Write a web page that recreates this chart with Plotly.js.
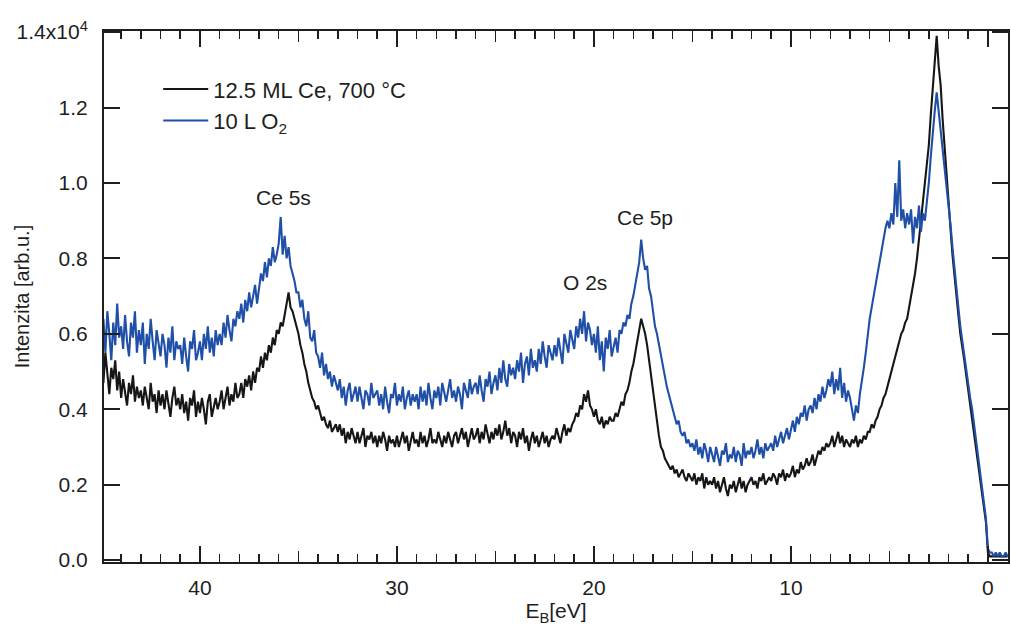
<!DOCTYPE html>
<html>
<head>
<meta charset="utf-8">
<script src="https://cdn.plot.ly/plotly-3.0.1.min.js"></script>
<style>html,body{margin:0;padding:0;background:#fff;}#chart{width:1011px;height:629px;}</style>
</head>
<body>
<div id="chart"></div>
<script>
// Binding-energy grid of the spectra (eV), first point and spacing
const energyStart = 45.0;
const energyStep = 0.1;

// Intensity in units of 10^4 counts, one row per eV (45.0 -> 44.1, 44.0 -> 43.1, ...)
const cleanCe = [
 .52,.47,.55,.49,.44,.51,.48,.53,.45,.50,
 .43,.48,.45,.41,.47,.44,.49,.42,.46,.43,
 .45,.41,.46,.43,.40,.47,.42,.44,.39,.45,
 .41,.44,.40,.45,.42,.38,.43,.46,.41,.43,
 .40,.44,.39,.42,.37,.43,.41,.45,.38,.42,
 .39,.43,.40,.36,.42,.44,.38,.41,.43,.40,
 .42,.45,.40,.43,.46,.41,.44,.42,.47,.43,
 .44,.47,.43,.48,.46,.49,.45,.50,.47,.51,
 .50,.54,.51,.55,.53,.57,.55,.59,.57,.61,
 .60,.63,.62,.65,.68,.71,.67,.66,.64,.62,
 .60,.57,.55,.52,.50,.47,.45,.43,.42,.40,
 .41,.39,.37,.38,.36,.35,.37,.34,.35,.36,
 .34,.36,.33,.35,.31,.34,.32,.35,.33,.31,
 .34,.31,.33,.35,.30,.33,.32,.34,.31,.33,
 .30,.33,.31,.34,.32,.29,.33,.31,.32,.30,
 .33,.30,.32,.34,.31,.33,.29,.32,.34,.31,
 .32,.30,.34,.31,.33,.30,.32,.35,.31,.32,
 .31,.34,.32,.30,.33,.31,.34,.32,.30,.33,
 .34,.31,.33,.35,.32,.34,.30,.33,.35,.32,
 .33,.35,.31,.34,.32,.36,.33,.31,.34,.32,
 .35,.33,.36,.32,.34,.37,.33,.35,.31,.34,
 .33,.30,.34,.32,.35,.31,.33,.29,.32,.34,
 .31,.33,.30,.32,.34,.31,.33,.30,.32,.33,
 .32,.35,.33,.31,.34,.36,.33,.35,.34,.36,
 .37,.39,.38,.41,.40,.44,.42,.45,.41,.40,
 .38,.40,.37,.36,.38,.35,.37,.36,.38,.37,
 .37,.39,.38,.40,.42,.41,.44,.45,.47,.50,
 .52,.55,.58,.61,.64,.62,.60,.57,.53,.49,
 .45,.41,.36,.33,.30,.29,.27,.26,.25,.24,
 .25,.23,.24,.22,.23,.24,.22,.21,.23,.22,
 .21,.23,.20,.22,.21,.23,.19,.22,.20,.21,
 .20,.22,.19,.21,.18,.20,.22,.19,.17,.20,
 .19,.21,.18,.20,.22,.19,.21,.18,.20,.21,
 .22,.20,.21,.19,.22,.21,.23,.20,.21,.22,
 .21,.23,.22,.20,.23,.22,.24,.21,.23,.22,
 .23,.25,.22,.24,.23,.26,.24,.25,.27,.25,
 .26,.28,.25,.27,.29,.28,.30,.29,.31,.30,
 .31,.33,.30,.32,.34,.31,.33,.30,.32,.31,
 .30,.32,.31,.33,.30,.32,.31,.33,.32,.34,
 .34,.36,.35,.37,.38,.40,.41,.43,.44,.46,
 .48,.50,.52,.54,.56,.58,.60,.61,.63,.64,
 .67,.69,.72,.76,.80,.85,.90,.95,1.00,1.05,
 1.10,1.18,1.26,1.33,1.39,1.31,1.26,1.17,1.09,1.02,
 .95,.88,.81,.75,.70,.65,.60,.57,.53,.49,
 .45,.42,.38,.34,.30,.26,.21,.17,.14,.10,
 .02,.01,.01,.01,.01,.01,.01,.01,.01,.01,
 .01
];

const oxidized = [
 .58,.64,.55,.66,.60,.53,.63,.57,.68,.59,
 .62,.56,.65,.58,.54,.63,.59,.66,.55,.61,
 .57,.63,.52,.60,.56,.64,.58,.53,.61,.57,
 .54,.60,.57,.51,.59,.55,.62,.53,.58,.56,
 .57,.52,.59,.54,.50,.58,.56,.61,.53,.55,
 .58,.53,.60,.56,.62,.55,.59,.54,.61,.57,
 .60,.57,.63,.59,.65,.61,.58,.64,.62,.66,
 .64,.68,.63,.69,.66,.71,.67,.70,.73,.68,
 .72,.76,.74,.79,.75,.80,.78,.83,.79,.81,
 .84,.91,.81,.86,.80,.83,.78,.76,.74,.71,
 .71,.67,.69,.64,.62,.66,.59,.58,.61,.55,
 .54,.51,.55,.49,.52,.48,.50,.46,.49,.47,
 .45,.48,.43,.46,.41,.45,.47,.42,.44,.46,
 .42,.46,.43,.40,.45,.44,.41,.47,.43,.44,
 .45,.41,.44,.40,.46,.42,.39,.44,.43,.47,
 .41,.44,.42,.46,.40,.43,.45,.41,.44,.42,
 .44,.40,.46,.42,.45,.41,.47,.43,.40,.45,
 .43,.46,.41,.47,.44,.42,.45,.48,.43,.45,
 .42,.46,.44,.40,.47,.45,.43,.48,.44,.46,
 .47,.44,.49,.45,.42,.48,.46,.50,.44,.47,
 .49,.45,.51,.47,.53,.48,.46,.52,.49,.51,
 .48,.53,.50,.55,.47,.52,.54,.49,.56,.51,
 .53,.50,.56,.52,.58,.54,.51,.57,.55,.53,
 .57,.54,.59,.55,.52,.60,.57,.55,.61,.58,
 .56,.62,.59,.64,.60,.66,.58,.63,.61,.57,
 .60,.55,.62,.53,.58,.50,.59,.56,.61,.54,
 .57,.59,.55,.61,.60,.63,.62,.65,.64,.68,
 .70,.73,.76,.79,.85,.80,.77,.78,.72,.70,
 .66,.62,.60,.57,.54,.51,.49,.46,.44,.42,
 .40,.38,.36,.37,.34,.33,.34,.31,.32,.30,
 .31,.29,.32,.28,.30,.27,.31,.29,.26,.30,
 .28,.26,.30,.27,.25,.29,.28,.31,.26,.28,
 .27,.30,.26,.29,.28,.25,.31,.27,.29,.28,
 .30,.27,.29,.32,.28,.30,.27,.31,.29,.30,
 .31,.29,.33,.30,.32,.34,.31,.33,.35,.32,
 .35,.37,.34,.38,.36,.39,.38,.41,.37,.40,
 .41,.39,.43,.40,.44,.42,.46,.43,.45,.48,
 .46,.50,.44,.48,.45,.51,.43,.47,.42,.45,
 .43,.40,.37,.41,.39,.44,.47,.51,.55,.60,
 .64,.67,.70,.74,.76,.80,.83,.86,.88,.90,
 .88,.92,.89,1.00,.91,1.06,.90,.93,.88,.92,
 .89,.93,.84,.91,.88,.94,.87,.92,.90,.95,
 1.00,1.07,1.14,1.19,1.24,1.18,1.14,1.09,1.04,.99,
 .95,.89,.83,.77,.72,.67,.62,.58,.54,.50,
 .47,.43,.40,.36,.32,.28,.24,.20,.16,.11,
 .03,.02,.02,.01,.02,.01,.02,.01,.01,.02,
 .01
];

const seriesNames = ['12.5 ML Ce, 700 °C', '10 L O<sub>2</sub>'];
const yTickVals = [0, 0.2, 0.4, 0.6, 0.8, 1.0, 1.2, 1.4];
const yTickText = ['0.0', '0.2', '0.4', '0.6', '0.8', '1.0', '1.2', '1.4x10<sup>4</sup>'];
const yTitle = 'Intenzita [arb.u.]';
const peakLabels = ['Ce 5s', 'O 2s', 'Ce 5p'];
const peakX = [35.74, 20.46, 17.41];
const peakY = [0.962, 0.736, 0.909];

const energy = cleanCe.map((_, i) => +(energyStart - i * energyStep).toFixed(2));

const FONT = 'Liberation Sans, Arial, sans-serif';
const INK = '#1e1e1e';

const traces = [
  {x: energy, y: cleanCe, name: seriesNames[0], type: 'scatter', mode: 'lines',
   line: {color: '#161616', width: 2.1}},
  {x: energy, y: oxidized, name: seriesNames[1], type: 'scatter', mode: 'lines',
   line: {color: '#1f4fa6', width: 2.1}},
  {x: [energy[0]], y: [null], xaxis: 'x2', showlegend: false, hoverinfo: 'skip', type: 'scatter'}
];

const annotations = peakLabels.map((t, i) => ({
  x: peakX[i], y: peakY[i], xref: 'x', yref: 'y', text: t, showarrow: false,
  font: {family: FONT, size: 21, color: INK}
}));
// y-axis title placed as rotated text beside the tick labels
annotations.push({
  xref: 'paper', yref: 'paper', x: -0.091, y: 0.5, xanchor: 'center', yanchor: 'middle',
  text: yTitle, textangle: -90, showarrow: false,
  font: {family: FONT, size: 20, color: INK}
});

const layout = {
  width: 1011, height: 629,
  margin: {l: 104, r: 3, t: 31, b: 67},
  paper_bgcolor: '#fff', plot_bgcolor: '#fff',
  font: {family: FONT, size: 21, color: INK},
  showlegend: true,
  legend: {x: 0.06, y: 0.93, xanchor: 'left', yanchor: 'top', bgcolor: 'rgba(0,0,0,0)',
           font: {family: FONT, size: 22, color: INK}, tracegroupgap: 0, itemwidth: 45},
  xaxis: {
    range: [44.87, -1.02], autorange: false,
    tickvals: [40, 30, 20, 10, 0], ticks: 'inside', ticklen: 16, tickwidth: 2, tickcolor: INK,
    showline: true, linewidth: 2, linecolor: INK, mirror: 'ticks',
    showgrid: false, zeroline: false, ticklabelstandoff: 6,
    minor: {dtick: 1, ticks: 'inside', ticklen: 8, tickwidth: 1.5, tickcolor: INK, showgrid: false},
    tickfont: {family: FONT, size: 21, color: INK},
    title: {text: 'E<sub>B</sub>[eV]', font: {family: FONT, size: 21, color: INK}, standoff: 2}
  },
  xaxis2: {
    matches: 'x', overlaying: 'x', range: [44.87, -1.02], autorange: false,
    tickvals: [45, 35, 25, 15, 5], ticks: 'inside', ticklen: 11, tickwidth: 1.5, tickcolor: INK,
    showticklabels: false, showline: false, mirror: 'ticks', showgrid: false, zeroline: false
  },
  yaxis: {
    range: [-0.005, 1.403], autorange: false,
    tickvals: yTickVals, ticktext: yTickText,
    ticks: 'inside', ticklen: 16, tickwidth: 2, tickcolor: INK,
    showline: true, linewidth: 2, linecolor: INK, mirror: 'ticks',
    showgrid: false, zeroline: false, ticklabelstandoff: 10,
    tickfont: {family: FONT, size: 21, color: INK}
  },
  annotations: annotations
};

Plotly.newPlot('chart', traces, layout, {displayModeBar: false, staticPlot: true});
</script>
</body>
</html>
